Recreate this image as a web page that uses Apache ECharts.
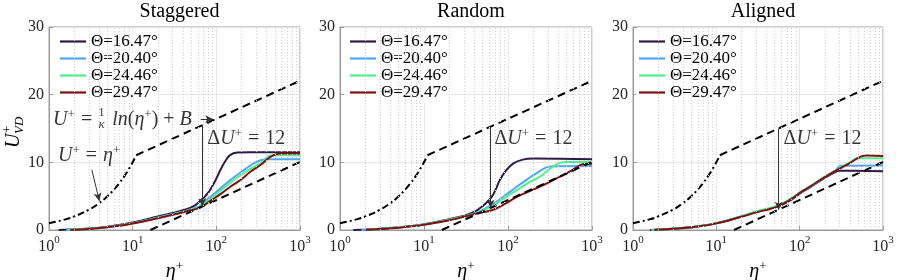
<!DOCTYPE html>
<html><head><meta charset="utf-8">
<script src="https://cdn.jsdelivr.net/npm/echarts@6/dist/echarts.min.js"></script>
<style>html,body{margin:0;padding:0;background:#fff}#c{width:897px;height:280px}</style>
</head><body><div id="c"></div>
<script>
// ---------------- data ----------------
const panelTitles = ['Staggered', 'Random', 'Aligned'];
const seriesNames = ['Θ=16.47°', 'Θ=20.40°', 'Θ=24.46°', 'Θ=29.47°'];
const xTicks = [1, 10, 100, 1000];
const yTicks = [0, 10, 20, 30];
const minorTicks = [2,3,4,5,6,7,8,9,20,30,40,50,60,70,80,90,200,300,400,500,600,700,800,900];

const stag16 = [[1.3,0],[2,0.1],[3,0.22],[5,0.5],[10,1.1],[20,2.0],[30,2.5],[45,3.1],[55,3.6],[64,4.3],[75,5.1],[85,6.0],[100,7.6],[112,8.9],[130,10.3],[147,11.1],[177,11.45],[250,11.5],[1000,11.5]];
const stag20 = [[1.6,0],[2,0.08],[3,0.2],[5,0.45],[10,1.0],[20,1.85],[30,2.35],[45,2.9],[60,3.4],[70,4.1],[85,4.9],[112,6.15],[147,7.4],[200,8.6],[260,9.6],[337,10.3],[420,10.45],[1000,10.45]];
const stag24 = [[1.7,0],[2,0.06],[3,0.18],[5,0.42],[10,0.95],[20,1.8],[30,2.3],[45,2.85],[60,3.3],[70,3.9],[85,4.6],[112,5.8],[147,7.0],[200,8.2],[260,9.1],[337,9.85],[443,11.0],[520,11.05],[1000,11.05]];
const stag29 = [[1.8,0],[2,0.05],[3,0.15],[5,0.4],[10,0.95],[20,1.75],[30,2.25],[45,2.8],[60,3.2],[70,3.6],[85,4.3],[112,5.3],[147,6.4],[200,7.5],[255,8.6],[337,9.6],[443,10.8],[584,11.3],[1000,11.3]];

const rand16 = [[1.44,0],[2,0.08],[3,0.2],[5,0.4],[10,0.85],[20,1.6],[30,2.1],[40,2.7],[46,3.2],[55,4.0],[64,4.9],[72,6.1],[80,7.4],[95,8.8],[116,9.85],[150,10.4],[200,10.55],[1000,10.45]];
const rand20 = [[1.8,0],[2,0.05],[3,0.16],[5,0.38],[10,0.82],[20,1.5],[30,2.0],[45,2.7],[67,3.9],[90,5.0],[127,6.4],[170,7.5],[219,8.4],[270,9.1],[316,9.4],[1000,9.45]];
const rand24 = [[2,0],[3,0.14],[5,0.36],[10,0.8],[20,1.5],[30,2.0],[45,2.6],[67,3.6],[90,4.7],[127,5.9],[170,6.9],[240,7.9],[320,9.1],[416,9.95],[500,10.05],[1000,10.05]];
const rand29 = [[2,0],[3,0.13],[5,0.35],[10,0.78],[20,1.45],[30,1.95],[45,2.5],[67,3.0],[90,3.8],[127,4.9],[170,5.6],[240,6.4],[350,7.4],[500,8.4],[650,9.2],[788,9.75],[1000,9.8]];

const alig16 = [[1.6,0],[2,0.08],[3,0.2],[5,0.42],[10,1.0],[20,2.0],[30,2.7],[45,3.2],[58,3.6],[80,4.5],[101,5.4],[133,6.3],[200,7.7],[270,8.6],[300,8.75],[1000,8.7]];
const alig20 = [[1.65,0],[2,0.08],[3,0.2],[5,0.42],[10,1.0],[20,2.0],[30,2.65],[45,3.2],[58,3.65],[80,4.6],[101,5.5],[133,6.3],[200,7.8],[270,8.8],[310,9.5],[1000,9.55]];
const alig24 = [[1.7,0],[2,0.07],[3,0.2],[5,0.42],[10,1.0],[20,2.05],[30,2.75],[45,3.3],[58,3.75],[80,4.7],[101,5.6],[133,6.45],[200,7.9],[305,9.15],[400,10.0],[500,10.6],[1000,10.6]];
const alig29 = [[1.8,0],[2,0.06],[3,0.18],[5,0.4],[10,0.98],[20,1.95],[30,2.6],[45,3.15],[58,3.6],[80,4.6],[101,5.5],[133,6.4],[200,7.8],[305,9.1],[400,9.9],[531,10.8],[650,11.0],[1000,10.95]];

const viscousLaw = [[1,1],[1.5,1.5],[2,2],[3,3],[4,4],[5,5],[6,6],[7,7],[8,8],[9,9],[10.7,10.7]];
const logLaw = [[11,11.05],[1000,22.05]];
const shiftedLaw = [[16.3,0],[1000,10.05]];

const deltaArrows = [[[68,15.5],[68,3.5]], [[62,15.27],[62,3.27]], [[56,15.0],[56,3.0]]];
const deltaTextPos = [[78,13.6],[69,13.6],[64,13.6]];
const logLawTextPos = [1.12, 16.4];
const logLawFracPos = [4.25, 16.4];
const logLawArrow = [[65,16.35],[92,16.35]];
const viscTextPos = [1.28, 11.1];
const viscArrow = [[3.25,8.9],[4.0,4.3]];

// ---------------- styles ----------------
const colors = ['#2e1a47', '#4da6f5', '#4ff08c', '#80100f'];
const FONT = '"Liberation Serif", serif';
const panels = [[stag16,stag20,stag24,stag29],[rand16,rand20,rand24,rand29],[alig16,alig20,alig24,alig29]];
const gridBoxes = [{left:49,width:251},{left:340,width:252},{left:633,width:250}];
const legendLeft = [57, 347, 636];

const rich = {
  i:{fontFamily:FONT,fontStyle:'italic',fontSize:20,color:'#000',lineHeight:22,verticalAlign:'bottom'},
  r:{fontFamily:FONT,fontSize:20,color:'#000',lineHeight:22,verticalAlign:'bottom'},
  eq:{fontFamily:FONT,fontSize:20,color:'#000',lineHeight:22,verticalAlign:'bottom',padding:[0,6,0,6]},
  g:{fontFamily:FONT,fontSize:20,lineHeight:22,width:14},
  sp:{fontFamily:FONT,fontSize:13,color:'#000',lineHeight:13,verticalAlign:'top'},
  n:{fontFamily:FONT,fontSize:13,color:'#000',lineHeight:12,align:'center'},
  d:{fontFamily:FONT,fontStyle:'italic',fontSize:13,color:'#000',lineHeight:12,align:'center'}
};
const tickRich = {
  b:{fontFamily:FONT,fontSize:16,color:'#262626',lineHeight:20,verticalAlign:'bottom'},
  s:{fontFamily:FONT,fontSize:11,color:'#262626',lineHeight:11,verticalAlign:'top'}
};

const grids=[], xAxes=[], yAxes=[], series=[], titles=[], legends=[];
panels.forEach((curves,p)=>{
  const gb = gridBoxes[p];
  grids.push({left:gb.left,width:gb.width,top:27,height:203,show:true,borderColor:'#9a9a9a',borderWidth:1,
    backgroundColor:'transparent',outerBoundsMode:'none',containLabel:false});
  titles.push({text:panelTitles[p],left:gb.left+gb.width/2,top:-3,textAlign:'center',
    textStyle:{fontFamily:FONT,fontSize:20,fontWeight:'normal',color:'#000'}});
  xAxes.push({type:'log',logBase:10,gridIndex:p,min:xTicks[0],max:xTicks[xTicks.length-1],
    axisLine:{show:true,lineStyle:{color:'#9a9a9a'}},
    axisTick:{show:true,inside:true,length:4,lineStyle:{color:'#9a9a9a'}},
    splitLine:{show:true,lineStyle:{color:'#e6e6e6',width:1}},
    axisLabel:{margin:5,formatter:v=>'{b|10}{s|'+Math.round(Math.log10(v))+'}',rich:tickRich},
    name:'{i|η}{sp|+}',nameLocation:'middle',nameGap:22,nameTextStyle:{rich:rich}});
  yAxes.push({type:'value',gridIndex:p,min:yTicks[0],max:yTicks[yTicks.length-1],interval:10,
    axisLine:{show:true,lineStyle:{color:'#9a9a9a'}},
    axisTick:{show:true,inside:true,length:4,lineStyle:{color:'#9a9a9a'}},
    splitLine:{show:true,lineStyle:{color:'#e6e6e6',width:1}},
    axisLabel:{margin:5,fontFamily:FONT,fontSize:16,color:'#262626'}});
  legends.push({data:seriesNames,orient:'vertical',left:legendLeft[p],top:31,itemWidth:26,itemHeight:2.2,itemGap:0,
    icon:'rect',padding:[2,3],backgroundColor:'#fff',selectedMode:false,
    textStyle:{fontFamily:FONT,fontSize:17,color:'#000',lineHeight:15.3}});
  // minor grid lines
  series.push({type:'line',xAxisIndex:p,yAxisIndex:p,data:[],silent:true,
    markLine:{silent:true,symbol:'none',label:{show:false},animation:false,
      lineStyle:{color:'#d0d0d0',type:[1,2],width:1},
      data:minorTicks.map(t=>({xAxis:t}))}});
  curves.forEach((d,k)=>{
    series.push({name:seriesNames[k],type:'line',xAxisIndex:p,yAxisIndex:p,data:d,symbol:'none',
      smooth:0.4,lineStyle:{color:colors[k],width:2},itemStyle:{color:colors[k]},z:3});
  });
  series.push({type:'line',xAxisIndex:p,yAxisIndex:p,data:viscousLaw,symbol:'none',smooth:true,
    lineStyle:{color:'#000',width:2,type:[7,3,2,3]},z:4,silent:true});
  series.push({type:'line',xAxisIndex:p,yAxisIndex:p,data:logLaw,symbol:'none',
    lineStyle:{color:'#000',width:2,type:[8,5]},z:4,silent:true});
  series.push({type:'line',xAxisIndex:p,yAxisIndex:p,data:shiftedLaw,symbol:'none',
    lineStyle:{color:'#000',width:2,type:[8,5]},z:4,silent:true});
  // annotations
  const ann = [{value:deltaTextPos[p],label:{formatter:'{r|Δ}{i|U}{sp|+}{eq|=}{r|12}'}}];
  const arrows = [[{coord:deltaArrows[p][0]},{coord:deltaArrows[p][1]}]];
  if(p===0){
    ann.push({value:logLawTextPos,label:{formatter:'{i|U}{sp|+}{eq|=}{g|}{i|ln}{r|(}{i|η}{sp|+}{r|) + }{i|B}'}});
    ann.push({value:logLawFracPos,label:{position:'inside',formatter:'{n|1}\n{d|κ}'}});
    ann.push({value:viscTextPos,label:{formatter:'{i|U}{sp|+}{eq|=}{i|η}{sp|+}'}});
    arrows.push([{coord:logLawArrow[0]},{coord:logLawArrow[1]}]);
    arrows.push([{coord:viscArrow[0]},{coord:viscArrow[1]}]);
  }
  series.push({type:'scatter',xAxisIndex:p,yAxisIndex:p,symbolSize:0,data:ann,silent:true,z:6,
    label:{show:true,position:'right',distance:0,rich:rich},
    markLine:{silent:true,symbol:['none','arrow'],symbolSize:[6,8],label:{show:false},animation:false,
      lineStyle:{color:'#333',width:1,type:'solid'},data:arrows}});
});

const chart = echarts.init(document.getElementById('c'),null,{renderer:'canvas'});
chart.setOption({
  animation:false,
  title:titles, grid:grids, xAxis:xAxes, yAxis:yAxes, legend:legends, series:series,
  graphic:[{type:'group',x:14,y:148,rotation:Math.PI/2,children:[
    {type:'text',x:0,y:0,style:{text:'U',font:'italic 20px "Liberation Serif"',fill:'#000',verticalAlign:'middle'}},
    {type:'text',x:15,y:-6,style:{text:'+',font:'13px "Liberation Serif"',fill:'#000',verticalAlign:'middle'}},
    {type:'text',x:14,y:6,style:{text:'VD',font:'italic 13px "Liberation Serif"',fill:'#000',verticalAlign:'middle'}}
  ]}]
});
</script></body></html>
